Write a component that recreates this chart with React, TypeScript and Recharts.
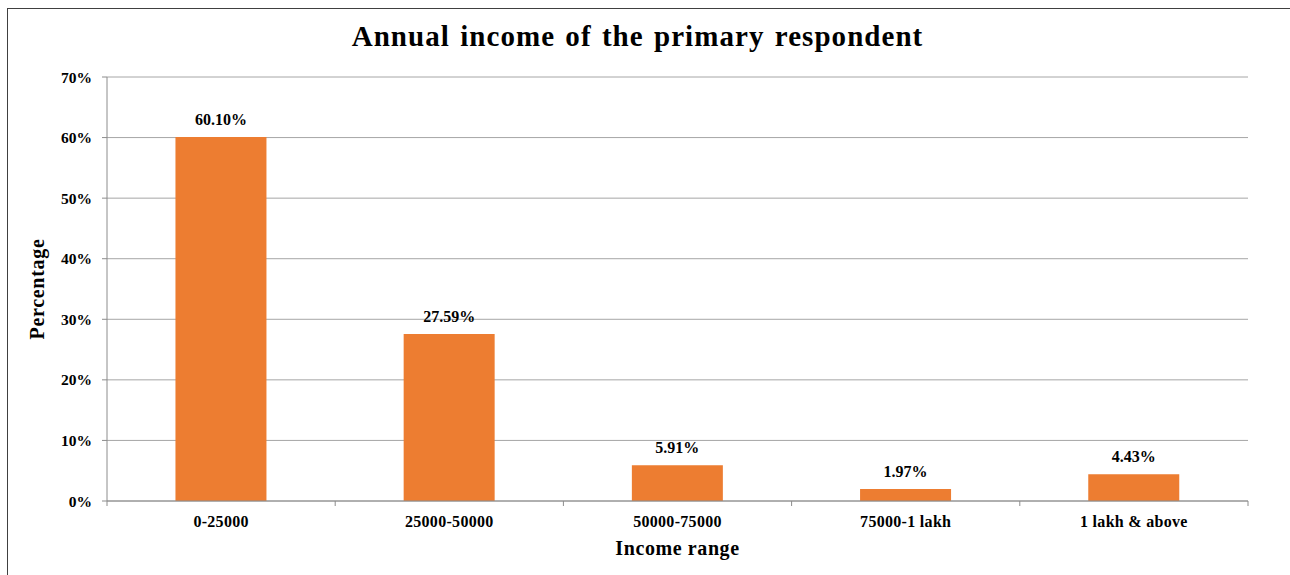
import React from 'react';
import { BarChart, Bar, XAxis, YAxis, CartesianGrid, LabelList, Label } from 'recharts';

const categories = ['0-25000', '25000-50000', '50000-75000', '75000-1 lakh', '1 lakh & above'];
const percentages = [60.1, 27.59, 5.91, 1.97, 4.43];
const yTicks = [0, 10, 20, 30, 40, 50, 60, 70];

const data = categories.map((c, i) => ({ category: c, value: percentages[i] }));

const FONT = '"Liberation Serif", "DejaVu Serif", serif';
const CHART_W = 1282;
const CHART_H = 566;
const MARGIN = { top: 68, right: 42, bottom: 0, left: 0 };
const Y_W = 99;
const X_H = 74;
const PLOT_W = CHART_W - MARGIN.left - MARGIN.right - Y_W;
const BAND = PLOT_W / categories.length;
const TICK_SIZE = 5;
const TICK_MARGIN = 10;
const AXIS_COLOR = '#8c8c8c';
const GRID_COLOR = '#a6a6a6';

const XTick = (props: any) => {
  const { x, y, payload, index } = props;
  const axisY = y - TICK_SIZE - TICK_MARGIN;
  const half = BAND / 2;
  return (
    <g>
      <line x1={x - half} x2={x - half} y1={axisY} y2={axisY + TICK_SIZE} stroke={AXIS_COLOR} />
      {index === categories.length - 1 && (
        <line x1={x + half} x2={x + half} y1={axisY} y2={axisY + TICK_SIZE} stroke={AXIS_COLOR} />
      )}
      <text x={x} y={y} dy="0.71em" textAnchor="middle" fontFamily={FONT} fontWeight="bold" fontSize={16} letterSpacing={0.3} fill="#000">
        {payload.value}
      </text>
    </g>
  );
};

export default function App() {
  return (
    <div style={{ position: 'fixed', left: 0, top: 0, width: 1290, height: 575, overflow: 'hidden', background: '#fff' }}>
      <div
        style={{
          position: 'absolute',
          left: 7,
          top: 8,
          width: 1300,
          height: 600,
          border: '1px solid #404040',
          background: '#fff',
        }}
      >
        <div
          style={{
            position: 'absolute',
            left: 0,
            top: 13,
            width: 1259,
            textAlign: 'center',
            fontFamily: FONT,
            fontWeight: 'bold',
            fontSize: 29,
            letterSpacing: 1.05,
            wordSpacing: 2,
            lineHeight: 1,
            color: '#000',
          }}
        >
          Annual income of the primary respondent
        </div>
        <BarChart width={CHART_W} height={CHART_H} data={data} margin={MARGIN} barCategoryGap="30%">
          <CartesianGrid vertical={false} stroke={GRID_COLOR} />
          <XAxis
            dataKey="category"
            height={X_H}
            stroke={AXIS_COLOR}
            tickLine={false}
            tickSize={TICK_SIZE}
            tickMargin={TICK_MARGIN}
            tick={<XTick />}
            interval={0}
          >
            <Label
              content={(p: any) => {
                const vb = p.viewBox;
                return (
                  <text x={vb.x + vb.width / 2} y={vb.y + 54} textAnchor="middle" fontFamily={FONT} fontWeight="bold" fontSize={20} letterSpacing={0.6} fill="#000">
                    Income range
                  </text>
                );
              }}
            />
          </XAxis>
          <YAxis
            width={Y_W}
            domain={[0, 70]}
            ticks={yTicks}
            interval={0}
            stroke={AXIS_COLOR}
            tickSize={TICK_SIZE}
            tickMargin={TICK_MARGIN}
            tickFormatter={(v: number) => `${v}%`}
            tick={{ fontFamily: FONT, fontWeight: 'bold', fontSize: 15.5, fill: '#000' }}
          >
            <Label
              content={(p: any) => {
                const vb = p.viewBox;
                const cx = vb.x + 36;
                const cy = vb.y + vb.height / 2;
                return (
                  <text x={cx} y={cy} transform={`rotate(-90 ${cx} ${cy})`} textAnchor="middle" fontFamily={FONT} fontWeight="bold" fontSize={20} letterSpacing={0.7} fill="#000">
                    Percentage
                  </text>
                );
              }}
            />
          </YAxis>
          <Bar dataKey="value" fill="#ED7D31" isAnimationActive={false}>
            <LabelList
              dataKey="value"
              position="top"
              offset={12}
              formatter={(v: any) => `${Number(v).toFixed(2)}%`}
              style={{ fontFamily: FONT, fontWeight: 'bold', fontSize: 16, fill: '#000' }}
            />
          </Bar>
        </BarChart>
      </div>
    </div>
  );
}
